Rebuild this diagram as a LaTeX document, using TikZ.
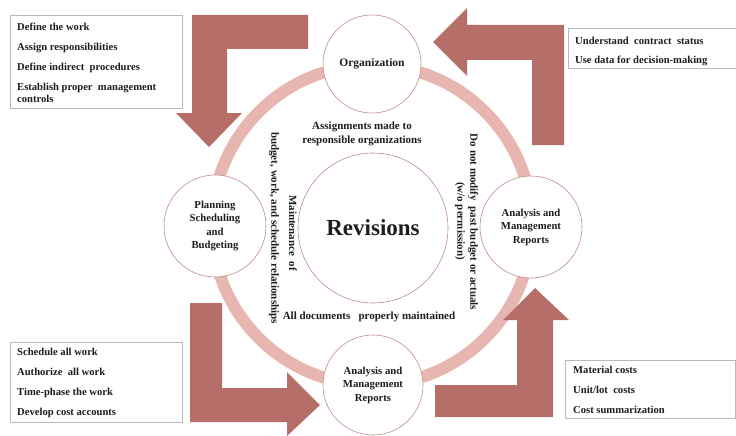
\documentclass[tikz,border=0pt]{standalone}
\usepackage{fontspec}
\setmainfont{Liberation Serif}
\definecolor{arrowc}{RGB}{182,110,104}
\definecolor{ringc}{RGB}{232,182,176}
\definecolor{circc}{RGB}{190,140,135}
\definecolor{boxc}{RGB}{185,185,185}
\definecolor{txt}{RGB}{30,30,30}
\begin{document}
\begin{tikzpicture}[x=1pt,y=-1pt,
  bigarrow/.style={fill=arrowc, draw=none},
  ringband/.style={draw=ringc, line width=12pt},
  stage/.style={circle, draw=circc, line width=0.6pt, fill=white, inner sep=0pt, text=txt,
    font=\bfseries\fontsize{10.7}{13.5}\selectfont, align=center},
  listbox/.style={draw=boxc, line width=0.6pt, fill=white, anchor=north west, inner sep=0pt},
  listtext/.style={anchor=north west, inner sep=0pt, align=left, text=txt,
    font=\bfseries\fontsize{10.6}{12}\selectfont},
  ringlabel/.style={inner sep=0pt, align=center, text=txt,
    font=\bfseries\fontsize{11}{13.5}\selectfont}]
\useasboundingbox (0,0) rectangle (736,436);

% ring
\coordinate (ringctr) at (372,225);
\draw[ringband] (ringctr) circle (160pt);

% block arrows
\fill[bigarrow] (308,15) -- (192,15) -- (192,113) -- (176,113) -- (209,147) -- (242,113)
  -- (227,113) -- (227,49) -- (308,49) -- cycle;
\fill[bigarrow] (564,145) -- (564,25) -- (467,25) -- (467,8) -- (433,42) -- (467,76)
  -- (467,60) -- (532,60) -- (532,145) -- cycle;
\fill[bigarrow] (190,303) -- (222,303) -- (222,388) -- (287,388) -- (287,372) -- (320,405)
  -- (287,436) -- (287,422) -- (190,422) -- cycle;
\fill[bigarrow] (435,385) -- (517,385) -- (517,320) -- (503,320) -- (535,288) -- (569,320)
  -- (553,320) -- (553,417) -- (435,417) -- cycle;

% stage circles
\node[stage, minimum size=98pt, font=\bfseries\fontsize{11.5}{13.5}\selectfont] (org) at (372,64) {Organization};
\node[stage, minimum size=102pt] (plan) at (215,226) {Planning\\Scheduling\\and\\Budgeting};
\node[stage, minimum size=102pt] (anright) at (531,227) {Analysis and\\Management\\Reports};
\node[stage, minimum size=100pt] (anbottom) at (373,385) {Analysis and\\Management\\Reports};
\node[stage, minimum size=150pt, font=\bfseries\fontsize{23}{26}\selectfont] (rev) at (373,228) {Revisions};

% ring labels
\node[ringlabel] (assign) at (362,134) {Assignments made to\\responsible organizations};
\node[ringlabel] (alldocs) at (369,317) {All documents\ \ \ properly\ maintained};
\node[ringlabel, rotate=-90] (maint) at (293,233) {Maintenance\ \ of};
\node[ringlabel, rotate=-90] (budget) at (274,228) {budget, work, and schedule relationships};
\node[ringlabel, rotate=-90] (donot) at (473,222) {Do not modify\ \ past budget or actuals};
\node[ringlabel, rotate=-90] (wo) at (460,221) {(w/o permission)};

% list boxes
\node[listbox, minimum width=172pt, minimum height=93pt] (box1) at (10,15) {};
\node[listtext] (list1) at (17,23) {Define the work\\[8pt]Assign responsibilities\\[8pt]Define indirect\ \ procedures\\[8pt]Establish\ proper\ \ management\\controls};
\node[listbox, minimum width=167.5pt, minimum height=40pt] (box2) at (568,28) {};
\node[listtext] (list2) at (575,37) {Understand\ \ contract\ \ status\\[7pt]Use data\ for decision-making};
\node[listbox, minimum width=172pt, minimum height=80pt] (box3) at (10,342) {};
\node[listtext] (list3) at (17,348) {Schedule all work\\[8pt]Authorize\ \ all work\\[8pt]Time-phase the work\\[8pt]Develop cost accounts};
\node[listbox, minimum width=170pt, minimum height=58pt] (box4) at (565,360) {};
\node[listtext] (list4) at (573,366) {Material costs\\[8pt]Unit/lot\ \ costs\\[8pt]Cost summarization};
\end{tikzpicture}
\end{document}
